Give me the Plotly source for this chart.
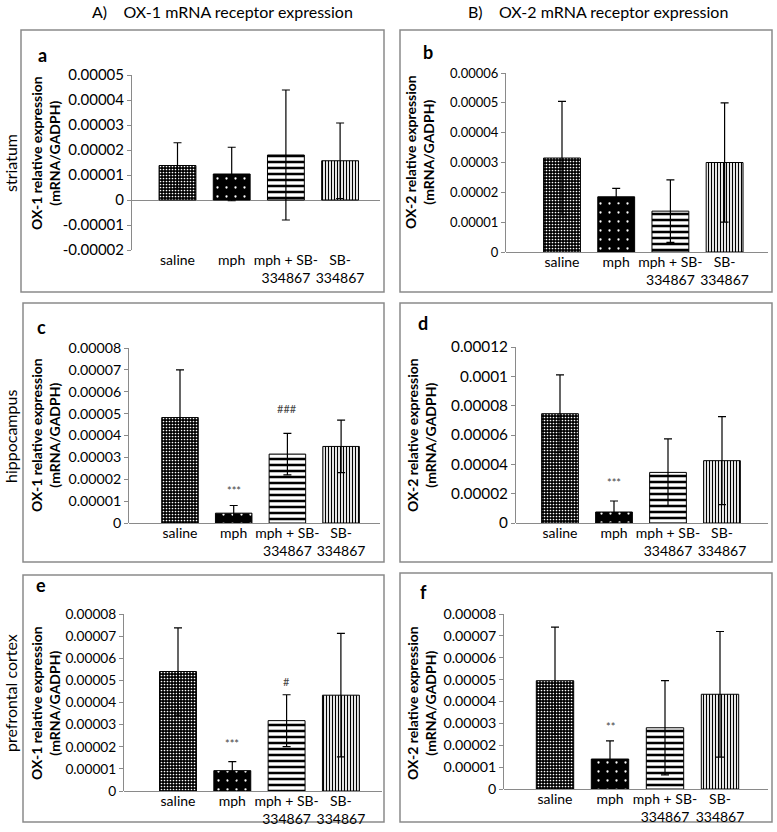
import plotly.graph_objects as go

W, H = 777, 832

categories = ["saline", "mph", "mph + SB-<br>334867", "SB-<br>334867"]

# Means and error (SD) per panel
a_mean = [0.0000138, 0.0000104, 0.0000180, 0.0000157]
a_err = [0.0000091, 0.0000107, 0.0000260, 0.0000151]
b_mean = [0.0000315, 0.0000185, 0.0000137, 0.0000300]
b_err = [0.0000190, 0.0000028, 0.0000105, 0.0000200]
c_mean = [0.0000482, 0.0000045, 0.0000315, 0.0000350]
c_err = [0.0000218, 0.0000035, 0.0000095, 0.0000120]
d_mean = [0.0000745, 0.0000075, 0.0000345, 0.0000425]
d_err = [0.0000265, 0.0000075, 0.0000228, 0.0000300]
e_mean = [0.0000540, 0.0000092, 0.0000318, 0.0000433]
e_err = [0.0000197, 0.0000041, 0.0000117, 0.0000279]
f_mean = [0.0000495, 0.0000137, 0.0000280, 0.0000433]
f_err = [0.0000245, 0.0000083, 0.0000215, 0.0000287]

# significance marks (text, and height in data units)
c_sig = ["", "***", "###", ""]
c_sig_y = [0, 0.0000150, 0.0000525, 0]
d_sig = ["", "***", "", ""]
d_sig_y = [0, 0.0000273, 0, 0]
e_sig = ["", "***", "#", ""]
e_sig_y = [0, 0.0000213, 0.0000493, 0]
f_sig = ["", "**", "", ""]
f_sig_y = [0, 0.0000288, 0, 0]

a_tickvals = [-0.00002, -0.00001, 0, 0.00001, 0.00002, 0.00003, 0.00004, 0.00005]
a_ticktext = ["-0.00002", "-0.00001", "0", "0.00001", "0.00002", "0.00003", "0.00004", "0.00005"]
b_tickvals = [0, 0.00001, 0.00002, 0.00003, 0.00004, 0.00005, 0.00006]
b_ticktext = ["0", "0.00001", "0.00002", "0.00003", "0.00004", "0.00005", "0.00006"]
c_tickvals = [0, 0.00001, 0.00002, 0.00003, 0.00004, 0.00005, 0.00006, 0.00007, 0.00008]
c_ticktext = ["0", "0.00001", "0.00002", "0.00003", "0.00004", "0.00005", "0.00006", "0.00007", "0.00008"]
d_tickvals = [0, 0.00002, 0.00004, 0.00006, 0.00008, 0.0001, 0.00012]
d_ticktext = ["0", "0.00002", "0.00004", "0.00006", "0.00008", "0.0001", "0.00012"]
e_tickvals = c_tickvals
e_ticktext = c_ticktext
f_tickvals = c_tickvals
f_ticktext = c_ticktext

ox1_title = "<b>OX-1 relative expression</b><br><b>(mRNA/GADPH)</b>"
ox2_title = "<b>OX-2 relative expression</b><br><b>(mRNA/GADPH)</b>"

FONT = "Lato"
GRAY = "#8a8a8a"

# bar styles: saline, mph, mph+SB, SB
styles = [
    dict(shape=".", bgcolor="black", fgcolor="white", size=3, solidity=0.25),
    dict(shape=".", bgcolor="black", fgcolor="white", size=9, solidity=0.05),
    dict(shape="-", bgcolor="white", fgcolor="black", size=6, solidity=0.42),
    dict(shape="|", bgcolor="white", fgcolor="black", size=3, solidity=0.4),
]

# panel layout in pixels: axis-left, axis-right, top, bottom, first bar center, spacing
panels = [
    dict(name="a", mean=a_mean, err=a_err, tv=a_tickvals, tt=a_ticktext, yr=[-0.00002, 0.00005],
         px=(132, 380, 75, 250, 177.5, 54.2), title=ox1_title, tpos=(45, 153),
         box=(21, 30, 384, 292), letter=(42, 55), sig=None, sigy=None, fs=15),
    dict(name="b", mean=b_mean, err=b_err, tv=b_tickvals, tt=b_ticktext, yr=[0, 0.00006],
         px=(506, 768, 73, 252, 562, 54.2), title=ox2_title, tpos=(419, 152),
         box=(400, 30, 772, 292), letter=(428, 52), sig=None, sigy=None, fs=13),
    dict(name="c", mean=c_mean, err=c_err, tv=c_tickvals, tt=c_ticktext, yr=[0, 0.00008],
         px=(129, 380, 348, 523, 180, 53.7), title=ox1_title, tpos=(45, 435),
         box=(23, 303, 384, 562), letter=(41, 327), sig=c_sig, sigy=c_sig_y, fs=14.2),
    dict(name="d", mean=d_mean, err=d_err, tv=d_tickvals, tt=d_ticktext, yr=[0, 0.00012],
         px=(516, 768, 347, 523, 560, 54.0), title=ox2_title, tpos=(421, 435),
         box=(400, 303, 772, 562), letter=(423, 323), sig=d_sig, sigy=d_sig_y, fs=15.3),
    dict(name="e", mean=e_mean, err=e_err, tv=e_tickvals, tt=e_ticktext, yr=[0, 0.00008],
         px=(124, 382, 614, 791, 178, 54.3), title=ox1_title, tpos=(45, 703),
         box=(23, 575, 384, 822), letter=(41, 585), sig=e_sig, sigy=e_sig_y, fs=13.7),
    dict(name="f", mean=f_mean, err=f_err, tv=f_tickvals, tt=f_ticktext, yr=[0, 0.00008],
         px=(504, 768, 614, 789, 555, 55.0), title=ox2_title, tpos=(421, 703),
         box=(400, 573, 772, 822), letter=(423, 592), sig=f_sig, sigy=f_sig_y, fs=14.2),
]

fig = go.Figure()
layout = dict(
    template="none",
    width=W, height=H, autosize=False,
    margin=dict(l=0, r=0, t=0, b=0, pad=0, autoexpand=False),
    paper_bgcolor="white", plot_bgcolor="white",
    showlegend=False,
    font=dict(family=FONT, color="black", size=15),
    barmode="overlay",
)
annotations = []
shapes = []

def px2x(p):
    return p / W

def px2y(p):
    return 1 - p / H

for i, p in enumerate(panels):
    n = "" if i == 0 else str(i + 1)
    xa, ya = "x" + n, "y" + n
    left, right, top, bottom, c0, sp = p["px"]
    xs = list(range(len(categories)))
    for k in xs:
        st = styles[k]
        fig.add_trace(go.Bar(
            x=[k], y=[p["mean"][k]], xaxis=xa, yaxis=ya, width=0.68,
            marker=dict(color=st["bgcolor"], line=dict(color="black", width=1),
                        pattern=dict(shape=st["shape"], bgcolor=st["bgcolor"],
                                     fgcolor=st["fgcolor"], size=st["size"],
                                     solidity=st["solidity"], fillmode="replace")),
            error_y=dict(type="data", array=[p["err"][k]], symmetric=True, color="black",
                         thickness=1.2, width=4),
            hoverinfo="skip",
        ))
    layout["xaxis" + n] = dict(
        domain=[px2x(left), px2x(right)], anchor=ya, automargin=False,
        range=[(left - c0) / sp, (right - c0) / sp],
        tickmode="array", tickvals=xs, ticktext=categories, tickangle=0,
        showline=False, showgrid=False, zeroline=False, ticks="",
        tickfont=dict(family=FONT, size=14, color="black"), fixedrange=True,
    )
    layout["yaxis" + n] = dict(
        domain=[px2y(bottom), px2y(top)], anchor=xa, automargin=False,
        range=p["yr"], tickmode="array", tickvals=p["tv"], ticktext=p["tt"],
        showline=True, linecolor=GRAY, linewidth=1, ticks="outside", ticklen=4,
        tickcolor=GRAY, showgrid=False, zeroline=True, zerolinecolor=GRAY,
        zerolinewidth=1, tickfont=dict(family=FONT, size=p["fs"], color="black"),
        fixedrange=True,
    )
    # panel box
    bx0, by0, bx1, by1 = p["box"]
    shapes.append(dict(type="rect", xref="paper", yref="paper",
                       x0=px2x(bx0), x1=px2x(bx1), y0=px2y(by1), y1=px2y(by0),
                       line=dict(color=GRAY, width=1.5), layer="below"))
    # y title
    tx, ty = p["tpos"]
    annotations.append(dict(text=p["title"], x=px2x(tx), y=px2y(ty), xref="paper", yref="paper",
                            showarrow=False, textangle=-90, xanchor="center", yanchor="middle",
                            font=dict(family=FONT, size=14, color="black")))
    # letter
    lx, ly = p["letter"]
    annotations.append(dict(text="<b>%s</b>" % p["name"], x=px2x(lx), y=px2y(ly),
                            xref="paper", yref="paper", showarrow=False,
                            xanchor="center", yanchor="middle",
                            font=dict(family=FONT, size=18, color="black")))
    if p["sig"]:
        for k, (s, sy) in enumerate(zip(p["sig"], p["sigy"])):
            if s:
                annotations.append(dict(text=s, x=k, y=sy, xref=xa, yref=ya, showarrow=False,
                                        xanchor="center", yanchor="middle",
                                        font=dict(family=FONT, size=11, color="#444444")))

# column titles
nb = "\u00a0"
annotations.append(dict(text="A)" + nb * 4 + "OX-1 mRNA receptor expression", x=px2x(222), y=px2y(11),
                        xref="paper", yref="paper", showarrow=False, xanchor="center", yanchor="middle",
                        font=dict(family=FONT, size=16, color="black")))
annotations.append(dict(text="B)" + nb * 4 + "OX-2 mRNA receptor expression", x=px2x(598), y=px2y(11),
                        xref="paper", yref="paper", showarrow=False, xanchor="center", yanchor="middle",
                        font=dict(family=FONT, size=16, color="black")))
# row labels
for lab, yy in [("striatum", 163), ("hippocampus", 437), ("prefrontal cortex", 693)]:
    annotations.append(dict(text=lab, x=px2x(10), y=px2y(yy), xref="paper", yref="paper",
                            showarrow=False, textangle=-90, xanchor="center", yanchor="middle",
                            font=dict(family=FONT, size=16, color="black")))

layout["annotations"] = annotations
layout["shapes"] = shapes
fig.update_layout(**layout)
fig.write_html("out.html", config={"displayModeBar": False},
               post_script="document.body.style.margin='0px';")
